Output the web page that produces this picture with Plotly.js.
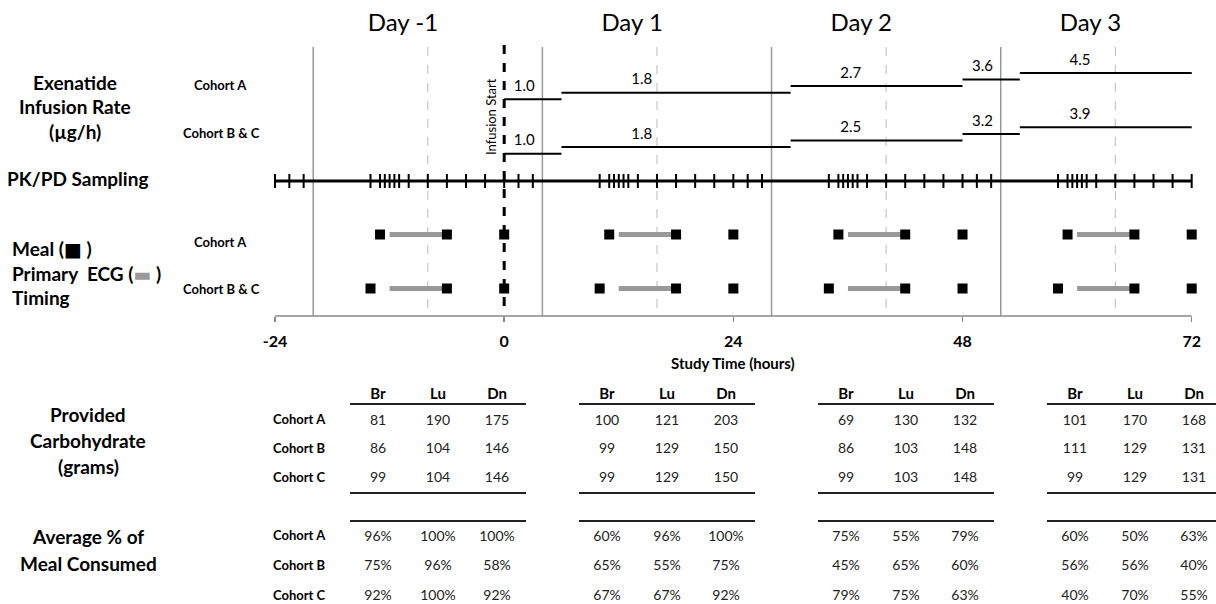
<!DOCTYPE html>
<html>
<head>
<meta charset="utf-8">
<script src="https://cdn.plot.ly/plotly-3.0.1.min.js"></script>
<style>html,body{margin:0;padding:0;background:#fff;}#chart{width:1216px;height:604px;}</style>
</head>
<body>
<div id="chart"></div>
<script>
// ---------------- DATA ----------------
const dayLabels = ['Day -1', 'Day 1', 'Day 2', 'Day 3'];
const dayStart = [-20, 4, 28, 52];          // solid grey lines (day boundaries, h)
const dayMid = [-8, 16, 40, 64];            // dashed grey lines (h)
const infusionStart = 0;
const rateEdges = [0, 6, 30, 48, 54, 72];   // infusion step boundaries (h)
const rateA = [1.0, 1.8, 2.7, 3.6, 4.5];    // µg/h, Cohort A
const rateBC = [1.0, 1.8, 2.5, 3.2, 3.9];   // µg/h, Cohort B & C
const pkTimes = [-24, -22.5, -21, -14, -13, -12.5, -12, -11.5, -11, -10, -8, -6, -4, -2,
  0, 1.5, 3, 10, 11, 11.5, 12, 12.5, 13, 14, 16, 18, 20, 22,
  24, 25.5, 27, 34, 35, 35.5, 36, 36.5, 37, 38, 40, 42, 44, 46,
  48, 49.5, 51, 58, 59, 59.5, 60, 60.5, 61, 62, 64, 66, 68, 70, 72];
const mealA = [-13, -6, 0, 11, 18, 24, 35, 42, 48, 59, 66, 72];
const mealBC = [-14, -6, 0, 10, 18, 24, 34, 42, 48, 58, 66, 72];
const ecgStart = [-12, 12, 36, 60];
const ecgEnd = [-6, 18, 42, 66];
const xTicks = [-24, 0, 24, 48, 72];
const xTitle = 'Study Time (hours)';
const mealNames = ['Br', 'Lu', 'Dn'];
const cohortNames = ['Cohort A', 'Cohort B', 'Cohort C'];
// provided carbohydrate (g): Day -1 Br,Lu,Dn | Day 1 | Day 2 | Day 3
const carbA = [81, 190, 175, 100, 121, 203, 69, 130, 132, 101, 170, 168];
const carbB = [86, 104, 146, 99, 129, 150, 86, 103, 148, 111, 129, 131];
const carbC = [99, 104, 146, 99, 129, 150, 99, 103, 148, 99, 129, 131];
// average % of meal consumed
const pctA = [96, 100, 100, 60, 96, 100, 75, 55, 79, 60, 50, 63];
const pctB = [75, 96, 58, 65, 55, 75, 45, 65, 60, 56, 56, 40];
const pctC = [92, 100, 92, 67, 67, 92, 79, 75, 63, 40, 70, 55];

// ---------------- LAYOUT CONSTANTS (pixel rows / columns) ----------------
const FONT = 'Lato, "Open Sans", sans-serif';
const W = 1216, H = 604;
const axisY = 316;           // bottom time axis
const lineTop = 47;
const rowA0 = 99.3, rowBC0 = 153.7, stepUp = 6.6;
const pkY = 181;
const mealRowA = 234.5, mealRowBC = 288.5;
const tableLeft = [350, 579, 818, 1047];
const tableWidth = 176;
const colOff = [28, 88, 147];
const headerY = 395, headRuleY = 404;
const carbRowsY = [421, 449.5, 478.5], carbRuleY = 493;
const pctRuleY = 521, pctRowsY = [537, 566.5, 596.5];

const traces = [];

// Infusion steps
function stepTrace(rates, base) {
  const xs = [], ys = [], lx = [], ly = [], lt = [];
  rates.forEach((r, i) => {
    const s = rateEdges[i], e = rateEdges[i + 1], y = base - i * stepUp;
    xs.push(s, e, null); ys.push(y, y, null);
    lx.push(s + 0.35 * (e - s)); ly.push(y - 12); lt.push(r.toFixed(1));
  });
  traces.push({x: xs, y: ys, mode: 'lines', line: {color: '#000', width: 2}, hoverinfo: 'skip'});
  traces.push({x: lx, y: ly, mode: 'text', text: lt, textposition: 'middle center',
    textfont: {family: FONT, size: 15, color: '#000'}, hoverinfo: 'skip', cliponaxis: false});
}
stepTrace(rateA, rowA0);
stepTrace(rateBC, rowBC0);

// PK/PD sampling
traces.push({x: [pkTimes[0], pkTimes[pkTimes.length - 1]], y: [pkY, pkY], mode: 'lines',
  line: {color: '#000', width: 3}, hoverinfo: 'skip'});
traces.push({x: pkTimes, y: pkTimes.map(() => pkY), mode: 'markers',
  marker: {symbol: 'line-ns', size: 10, line: {color: '#000', width: 2}}, hoverinfo: 'skip'});

// ECG bars
function ecgTrace(yRow) {
  const xs = [], ys = [];
  ecgStart.forEach((s, i) => { xs.push(s, ecgEnd[i], null); ys.push(yRow, yRow, null); });
  traces.push({x: xs, y: ys, mode: 'lines', line: {color: '#999', width: 5}, hoverinfo: 'skip'});
}
ecgTrace(mealRowA);
ecgTrace(mealRowBC);

// Meals
[[mealA, mealRowA], [mealBC, mealRowBC]].forEach(([m, yRow]) => {
  traces.push({x: m, y: m.map(() => yRow), mode: 'markers',
    marker: {symbol: 'square', size: 10, color: '#000'}, hoverinfo: 'skip', cliponaxis: false});
});

// Day labels
traces.push({x: dayMid.map(d => d - 2.6), y: dayLabels.map(() => 25), mode: 'text', text: dayLabels,
  textposition: 'middle center', textfont: {family: FONT, size: 24, color: '#000'}, hoverinfo: 'skip', cliponaxis: false});

// Tables
const carbRows = [carbA, carbB, carbC];
const pctRows = [pctA, pctB, pctC];
const hx = [], hy = [], ht = [];
const vx = [], vy = [], vt = [];
tableLeft.forEach((L, t) => {
  mealNames.forEach((m, c) => { hx.push(L + colOff[c]); hy.push(headerY); ht.push(m); });
  carbRows.forEach((row, r) => {
    mealNames.forEach((m, c) => { vx.push(L + colOff[c]); vy.push(carbRowsY[r]); vt.push(String(row[t * 3 + c])); });
  });
  pctRows.forEach((row, r) => {
    mealNames.forEach((m, c) => { vx.push(L + colOff[c]); vy.push(pctRowsY[r]); vt.push(row[t * 3 + c] + '%'); });
  });
});
traces.push({x: hx, y: hy, xaxis: 'x2', mode: 'text', text: ht, textposition: 'middle center',
  textfont: {family: FONT, size: 15, weight: 'bold', color: '#000'}, hoverinfo: 'skip', cliponaxis: false});
traces.push({x: vx, y: vy, xaxis: 'x2', mode: 'text', text: vt, textposition: 'middle center',
  textfont: {family: FONT, size: 14, color: '#222'}, hoverinfo: 'skip', cliponaxis: false});
const cx = [], cy = [], ct = [];
cohortNames.forEach((n, r) => { cx.push(273); cy.push(carbRowsY[r]); ct.push(n); cx.push(273); cy.push(pctRowsY[r]); ct.push(n); });
traces.push({x: cx, y: cy, xaxis: 'x2', mode: 'text', text: ct, textposition: 'middle right',
  textfont: {family: FONT, size: 13, weight: 'bold', color: '#000'}, hoverinfo: 'skip', cliponaxis: false});

// ---------------- SHAPES ----------------
const shapes = [];
dayStart.forEach(d => shapes.push({type: 'line', xref: 'x', yref: 'y', x0: d, x1: d, y0: lineTop, y1: axisY,
  line: {color: '#999', width: 1.5}, layer: 'below'}));
dayMid.forEach(d => shapes.push({type: 'line', xref: 'x', yref: 'y', x0: d, x1: d, y0: lineTop, y1: axisY,
  line: {color: '#bbb', width: 1, dash: 'dash'}, layer: 'below'}));
shapes.push({type: 'line', xref: 'x', yref: 'y', x0: infusionStart, x1: infusionStart, y0: 45, y1: 312,
  line: {color: '#000', width: 3, dash: 'dash'}, layer: 'below'});
shapes.push({type: 'line', xref: 'x', yref: 'y', x0: xTicks[0], x1: xTicks[xTicks.length - 1], y0: axisY, y1: axisY,
  line: {color: '#888', width: 1.5}, layer: 'below'});
tableLeft.forEach(L => {
  [headRuleY, carbRuleY, pctRuleY].forEach(y => shapes.push({type: 'line', xref: 'x2', yref: 'y',
    x0: L, x1: L + tableWidth, y0: y, y1: y, line: {color: '#222', width: 2}}));
});

// ---------------- ANNOTATIONS ----------------
function ann(text, x, y, size, bold, extra) {
  return Object.assign({text: text, x: x, y: y, xref: 'x2', yref: 'y', showarrow: false,
    font: {family: FONT, size: size, color: '#000', weight: bold ? 'bold' : 'normal'},
    xanchor: 'center', yanchor: 'middle'}, extra || {});
}
const annotations = [
  ann('Exenatide', 75, 82, 19, true),
  ann('Infusion Rate', 75, 106.5, 19, true),
  ann('(µg/h)', 75, 131, 19, true),
  ann('Cohort A', 220, 85, 13, true),
  ann('Cohort B & C', 221, 132.5, 13, true),
  ann('PK/PD Sampling', 77, 178, 19, true),
  ann('Meal (<span style="font-family:DejaVu Sans">■</span> )', 10, 248, 19, true, {xanchor: 'left'}),
  ann('Primary  ECG (<span style="color:#999;font-family:DejaVu Sans">▬</span> )', 10, 273, 19, true, {xanchor: 'left'}),
  ann('Timing', 10, 297, 19, true, {xanchor: 'left'}),
  ann('Cohort A', 220, 241.5, 13, true),
  ann('Cohort B & C', 221, 288.5, 13, true),
  ann('Infusion Start', 491, 117, 13, false, {textangle: -90}),
  ann('Provided', 88, 414, 19, true),
  ann('Carbohydrate', 88, 440, 19, true),
  ann('(grams)', 88, 466, 19, true),
  ann('Average % of', 88, 536, 19, true),
  ann('Meal Consumed', 88, 563, 19, true),
  // axis title, centred under the 24 h tick as in the original
  {text: xTitle, x: xTicks[2], y: 363, xref: 'x', yref: 'y', showarrow: false,
   font: {family: FONT, size: 15, weight: 'bold', color: '#000'}, xanchor: 'center', yanchor: 'middle'}
];

const layout = {
  width: W, height: H,
  margin: {l: 0, r: 0, t: 0, b: 0, pad: 0},
  paper_bgcolor: '#fff', plot_bgcolor: '#fff',
  showlegend: false,
  xaxis: {
    range: [-52.8, 74.545], anchor: 'free', position: 1 - axisY / H,
    tickvals: xTicks, ticktext: xTicks.map(String),
    ticks: 'outside', ticklen: 5, tickcolor: '#888', tickwidth: 1.5,
    showline: false, showgrid: false, zeroline: false,
    tickfont: {family: FONT, size: 16, weight: 'bold', color: '#000'},
    ticklabelstandoff: 6,
    fixedrange: true
  },
  xaxis2: {range: [0, W], overlaying: 'x', visible: false, fixedrange: true},
  yaxis: {range: [H, 0], domain: [0, 1], visible: false, fixedrange: true},
  shapes: shapes,
  annotations: annotations
};

Plotly.newPlot('chart', traces, layout, {displayModeBar: false, staticPlot: true});
</script>
</body>
</html>
